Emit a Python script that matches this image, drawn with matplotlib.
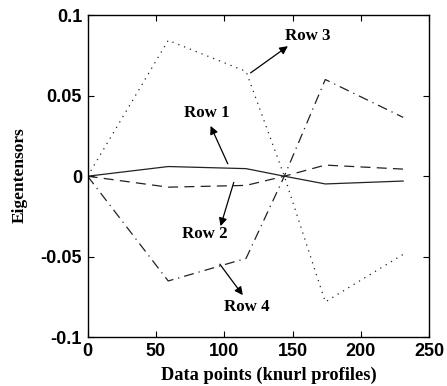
import matplotlib.pyplot as plt
import numpy as np

# data
x = [0, 59, 116, 144, 174, 231]
row1 = [0, 0.006, 0.0047, 0, -0.0048, -0.003]
row2 = [0, -0.0068, -0.0057, 0, 0.0069, 0.0044]
row3 = [0, 0.0843, 0.065, 0, -0.078, -0.0485]
row4 = [0, -0.065, -0.051, 0, 0.060, 0.0365]

labels = ['Row 1', 'Row 2', 'Row 3', 'Row 4']
# (text pos, arrow tail, arrow head) in data coords
notes = {
    'Row 1': ((87, 0.0392), (102.6, 0.0077), (90.0, 0.0312)),
    'Row 2': ((86, -0.0361), (107.0, -0.0038), (97.3, -0.031)),
    'Row 3': ((161, 0.0873), (119.3, 0.0641), (146.6, 0.0807)),
    'Row 4': ((116.5, -0.0812), (96.8, -0.0546), (113.6, -0.0738)),
}

fig = plt.figure(figsize=(4.47, 3.86), dpi=100)
ax = fig.add_axes([0.196, 0.126, 0.764, 0.835])

ax.plot(x, row1, color='#222222', lw=0.9, ls='-')
ax.plot(x, row2, color='#222222', lw=0.9, ls=(0, (8, 5)))
ax.plot(x, row3, color='#222222', lw=0.9, ls=(0, (1, 4)))
ax.plot(x, row4, color='#222222', lw=0.9, ls=(0, (8, 4, 1, 4)))

for name in labels:
    (tx, ty), tail, head = notes[name]
    ax.annotate('', xy=head, xytext=tail,
                arrowprops=dict(arrowstyle='-|>', color='black', lw=0.9,
                                mutation_scale=12, shrinkA=0, shrinkB=0))
    ax.text(tx, ty, name, ha='center', va='center', fontsize=12.2,
            fontfamily='Liberation Serif', fontweight='bold')

ax.set_xlim(0, 250)
ax.set_ylim(-0.1, 0.1)
ax.set_xticks([0, 50, 100, 150, 200, 250])
ax.set_yticks([-0.1, -0.05, 0, 0.05, 0.1])
ax.set_yticklabels(['-0.1', '-0.05', '0', '0.05', '0.1'])
ax.tick_params(direction='in', top=True, right=True, length=4, width=0.8,
               labelsize=13, pad=4)
for lab in ax.get_xticklabels() + ax.get_yticklabels():
    lab.set_fontfamily('Liberation Sans')
    lab.set_fontweight('bold')
for s in ax.spines.values():
    s.set_linewidth(1.0)

ax.set_xlabel('Data points (knurl profiles)', fontsize=13.2,
              fontfamily='Liberation Serif', fontweight='bold')
ax.xaxis.set_label_coords(0.532, -0.118)
ax.xaxis.label.set_va('center')
ax.set_ylabel('Eigentensors', fontsize=12.5,
              fontfamily='Liberation Serif', fontweight='bold')
ax.yaxis.set_label_coords(-0.198, 0.504)
ax.yaxis.label.set_va('center')

fig.savefig('out.png', dpi=100)
